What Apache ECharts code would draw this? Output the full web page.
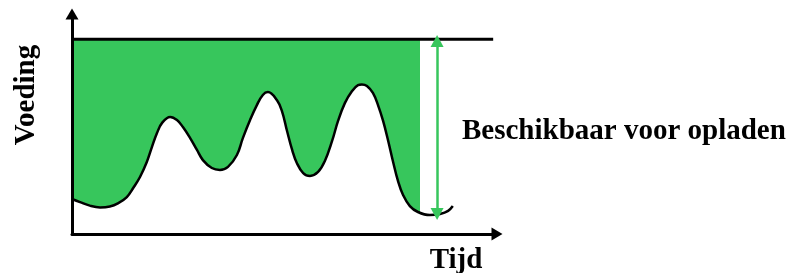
<!DOCTYPE html>
<html>
<head>
<meta charset="utf-8">
<script src="https://cdn.jsdelivr.net/npm/echarts@6/dist/echarts.min.js"></script>
<style>
  html, body { margin: 0; padding: 0; background: #fff; }
  #chart { width: 791px; height: 273px; }
</style>
</head>
<body>
<div id="chart"></div>
<script>
// tijd (x) and voeding (y) of the demand curve, arbitrary units
var tijd = [0, 1.9, 4.2, 6.6, 8.9, 10.8, 12.9, 14.4, 16.0, 17.6, 18.8, 20.0, 21.2, 23.1,
  24.7, 26.1, 27.8, 29.4, 30.8, 32.9, 34.8, 36.7, 38.8, 40.2, 41.9, 43.5, 44.9, 46.1,
  48.2, 49.4, 50.6, 51.8, 52.9, 54.4, 56.0, 57.9, 59.5, 61.2, 62.6, 64.2, 65.9, 67.3, 68.2,
  69.4, 70.8, 72.0, 73.2, 74.4, 75.5, 76.7, 77.9, 79.5, 81.4, 84.2, 86.6, 88.5, 89.6];
var voeding = [15.9, 14.5, 12.9, 12.1, 12.5, 13.9, 16.8, 20.9, 25.9, 32.7, 39.5, 45.9, 50.5, 53.2,
  51.8, 48.6, 43.6, 38.2, 33.6, 30.0, 29.1, 30.5, 35.9, 43.6, 51.8, 58.6, 63.2, 64.5,
  60.9, 55.9, 46.8, 38.2, 32.3, 27.7, 26.4, 28.2, 33.2, 42.3, 51.4, 59.5, 65.0, 67.7, 68.0,
  67.3, 64.1, 58.6, 51.4, 42.3, 33.2, 24.1, 17.7, 12.7, 10.0, 8.6, 9.1, 10.5, 12.7];

var capaciteit = 88.5;     // horizontal max line
var capaciteitEnd = 99.1;  // where that line stops
var fillEnd = 81.65;       // green area stops here
var pijlX = 85.9;          // the green double arrow
var pijlVan = 87.7, pijlTot = 9.1;

var groen = '#37c65c';
var pxPerX = 4.25, pxPerY = 2.2;

var curve = tijd.map(function (t, i) { return [t, voeding[i]]; });

var chart = echarts.init(document.getElementById('chart'));

var axisStyle = {
  show: true, symbol: ['none', 'triangle'], symbolSize: [13, 11],
  lineStyle: { color: '#000', width: 3 }
};

chart.setOption({
  animation: false,
  grid: [
    { left: 72, width: 100 * pxPerX, top: 14, height: 100 * pxPerY },
    // same scales, but cut off at the max line (top) and at fillEnd (right)
    { left: 72, width: fillEnd * pxPerX, top: 234 - capaciteit * pxPerY, bottom: 39 }
  ],
  xAxis: [
    {
      type: 'value', gridIndex: 0, min: 0, max: 100, z: 5,
      axisLine: axisStyle,
      axisTick: { show: false }, axisLabel: { show: false }, splitLine: { show: false }
    },
    { type: 'value', gridIndex: 1, show: false, min: 0, max: fillEnd }
  ],
  yAxis: [
    {
      type: 'value', gridIndex: 0, min: 0, max: 100, z: 5,
      axisLine: axisStyle,
      axisTick: { show: false }, axisLabel: { show: false }, splitLine: { show: false }
    },
    { type: 'value', gridIndex: 1, show: false, min: 0, max: capaciteit }
  ],
  series: [
    {
      type: 'line', xAxisIndex: 1, yAxisIndex: 1,
      data: curve, smooth: 0.4, symbol: 'none', silent: true, clip: true,
      lineStyle: { width: 0 },
      areaStyle: { origin: 'end', color: groen, opacity: 1 }
    },
    {
      type: 'line', xAxisIndex: 0, yAxisIndex: 0,
      data: [[0, capaciteit], [capaciteitEnd, capaciteit]],
      symbol: 'none', silent: true,
      lineStyle: { color: '#000', width: 3 }
    },
    {
      type: 'line', xAxisIndex: 0, yAxisIndex: 0,
      data: curve, smooth: 0.4, symbol: 'none', silent: true,
      lineStyle: { color: '#000', width: 2.5 },
      markLine: {
        silent: true,
        symbol: ['triangle', 'triangle'],
        symbolSize: [13, 12],
        label: { show: false },
        lineStyle: { color: groen, width: 2.5, type: 'solid' },
        data: [[{ coord: [pijlX, pijlVan] }, { coord: [pijlX, pijlTot] }]]
      }
    }
  ],
  graphic: [
    {
      type: 'text', x: 27, y: 95, rotation: Math.PI / 2,
      style: { text: 'Voeding', font: 'bold 29px "Liberation Serif"', fill: '#000', align: 'center', verticalAlign: 'middle' }
    },
    {
      type: 'text', x: 456, y: 261,
      style: { text: 'Tijd', font: 'bold 29px "Liberation Serif"', fill: '#000', align: 'center', verticalAlign: 'middle' }
    },
    {
      type: 'text', x: 462, y: 132,
      style: { text: 'Beschikbaar voor opladen', font: 'bold 29px "Liberation Serif"', fill: '#000', align: 'left', verticalAlign: 'middle' }
    }
  ]
});
</script>
</body>
</html>
